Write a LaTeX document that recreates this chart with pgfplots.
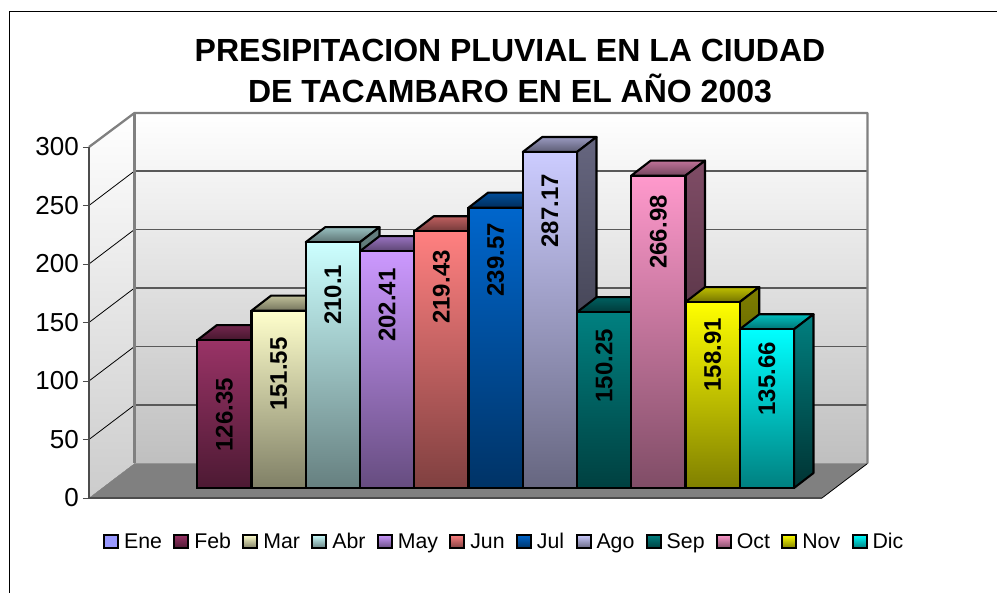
\documentclass[border=0pt]{standalone}
\usepackage{fontspec}
\setmainfont{Liberation Sans}
\usepackage{pgfplots}
\pgfplotsset{compat=1.18}
\definecolor{cEne}{HTML}{9999FF}
\definecolor{cFeb}{HTML}{993366}
\definecolor{cMar}{HTML}{FFFFCC}
\definecolor{cAbr}{HTML}{CCFFFF}
\definecolor{cMay}{HTML}{CC99FF}
\definecolor{cJun}{HTML}{FF8080}
\definecolor{cJul}{HTML}{0066CC}
\definecolor{cAgo}{HTML}{CCCCFF}
\definecolor{cSep}{HTML}{008080}
\definecolor{cOct}{HTML}{FF99CC}
\definecolor{cNov}{HTML}{FFFF00}
\definecolor{cDic}{HTML}{00FFFF}
\definecolor{wallgray}{HTML}{808080}
\newcommand{\swatch}[2]{\addlegendimage{legend image code/.code={\draw[line width=2pt,draw=black,top color=#1,bottom color=#2] (0pt,-6.5pt) rectangle (14pt,7pt);}}}
% index, value, colour, label height
\newcommand{\monthbar}[4]{%
  \fill[top color=#3!75!black,bottom color=#3!45!black,draw=black,line width=2.1pt,line join=round,xshift=13pt,yshift=10pt]
    ([xshift=-27.13pt]axis cs:#1,#2) -- ++(19.5pt,15pt) -- ++(54.27pt,0pt) -- ++(-19.5pt,-15pt) -- cycle;
  \fill[top color=#3!50!black,bottom color=#3!20!black,draw=black,line width=2.1pt,line join=round,xshift=13pt,yshift=10pt]
    ([xshift=27.13pt]axis cs:#1,#2) -- ++(19.5pt,15pt) -- ([xshift=46.63pt,yshift=15pt]axis cs:#1,0) -- ([xshift=27.13pt]axis cs:#1,0) -- cycle;
  \addplot[ybar,bar width=54.27pt,bar shift=0pt,xshift=13pt,yshift=10pt,draw=black,line width=2.1pt,top color=#3,bottom color=#3!50!black,forget plot] coordinates {(#1,#2)};
  \node[rotate=90,font=\fontsize{24}{24}\selectfont\bfseries,text=black] at ([xshift=13pt,yshift=10pt]axis cs:#1,#4) {#2};
}
\begin{document}
\begin{tikzpicture}
\path[use as bounding box] (-89pt,-95pt) rectangle (908pt,498pt);
\begin{axis}[
  scale only axis,width=733pt,height=351pt,
  xmin=-0.2558,xmax=13.2558,ymin=0,ymax=300,
  clip=false,axis on top,
  axis y line=left,axis x line=bottom,
  axis line style={-,line width=1.1pt,draw=black!70},
  xtick=\empty,
  ytick={0,50,100,150,200,250,300},
  tick align=outside,major tick length=6pt,
  y tick style={line width=0.9pt,draw=black!70},
  /pgf/number format/assume math mode=true,
  yticklabel style={font=\fontsize{26}{26}\selectfont,inner sep=1pt,xshift=-3pt},
  legend columns=12,
  legend style={at={(0.5665,-0.125)},anchor=center,draw=none,fill=none,
    font=\fontsize{21.3}{22}\selectfont,
    /tikz/every even column/.append style={column sep=9.3pt},
    /tikz/every odd column/.append style={column sep=3pt}},
]
% walls and floor
\fill[top color=white,bottom color=black!25] ([shift={(45.5pt,34.5pt)}]rel axis cs:0,0) rectangle ([shift={(45.5pt,34pt)}]rel axis cs:1,1);
\fill[top color=white,bottom color=black!20] (rel axis cs:0,0) -- ([shift={(45.5pt,34.5pt)}]rel axis cs:0,0) -- ([shift={(45.5pt,34pt)}]rel axis cs:0,1) -- (rel axis cs:0,1) -- cycle;
\fill[wallgray] (rel axis cs:0,0) -- ([shift={(45.5pt,34.5pt)}]rel axis cs:0,0) -- ([shift={(45.5pt,34.5pt)}]rel axis cs:1,0) -- (rel axis cs:1,0) -- cycle;
\draw[black,line width=0.8pt] (rel axis cs:1,0) -- ([shift={(45.5pt,34.5pt)}]rel axis cs:1,0);
\pgfplotsinvokeforeach{50,100,150,200,250}{
  \draw[black,line width=0.8pt] (axis cs:-0.2558,#1) -- ([shift={(45.5pt,34.5pt)}]axis cs:-0.2558,#1);
  \draw[black!65,line width=1.2pt] ([shift={(45.5pt,34.5pt)}]axis cs:-0.2558,#1) -- ([shift={(45.5pt,34.5pt)}]axis cs:13.2558,#1);
}
\draw[wallgray,line width=2.3pt,line join=round] (rel axis cs:0,1) -- ([shift={(45.5pt,34pt)}]rel axis cs:0,1) -- ([shift={(45.5pt,34pt)}]rel axis cs:1,1) -- ([shift={(45.5pt,34.5pt)}]rel axis cs:1,0);
\draw[wallgray,line width=2.3pt] ([shift={(45.5pt,34pt)}]rel axis cs:0,1) -- ([shift={(45.5pt,34.5pt)}]rel axis cs:0,0);
% legend images
\swatch{cEne}{cEne}\swatch{cFeb}{cFeb!50!black}\swatch{cMar}{cMar!50!black}\swatch{cAbr}{cAbr!50!black}\swatch{cMay}{cMay!50!black}\swatch{cJun}{cJun!50!black}
\swatch{cJul}{cJul!50!black}\swatch{cAgo}{cAgo!50!black}\swatch{cSep}{cSep!50!black}\swatch{cOct}{cOct!50!black}\swatch{cNov}{cNov!50!black}\swatch{cDic}{cDic!50!black}
% bars (Ene has no value)
\monthbar{2}{126.35}{cFeb}{62.4}
\monthbar{3}{151.55}{cMar}{97.4}
\monthbar{4}{210.1}{cAbr}{165}
\monthbar{5}{202.41}{cMay}{156.4}
\monthbar{6}{219.43}{cJun}{171.8}
\monthbar{7}{239.57}{cJul}{194.9}
\monthbar{8}{287.17}{cAgo}{236.8}
\monthbar{9}{150.25}{cSep}{104.3}
\monthbar{10}{266.98}{cOct}{218.8}
\monthbar{11}{158.91}{cNov}{113.7}
\monthbar{12}{135.66}{cDic}{93.2}
\legend{Ene,Feb,Mar,Abr,May,Jun,Jul,Ago,Sep,Oct,Nov,Dic}
\end{axis}
\node[align=center,font=\fontsize{32}{41}\selectfont\bfseries] at (421pt,427pt) {PRESIPITACION PLUVIAL EN LA CIUDAD\\DE TACAMBARO EN EL AÑO 2003};
\draw[black,line width=1pt] (-79.5pt,-95pt) -- (-79.5pt,486pt) -- (908pt,486pt);
\end{tikzpicture}
\end{document}
